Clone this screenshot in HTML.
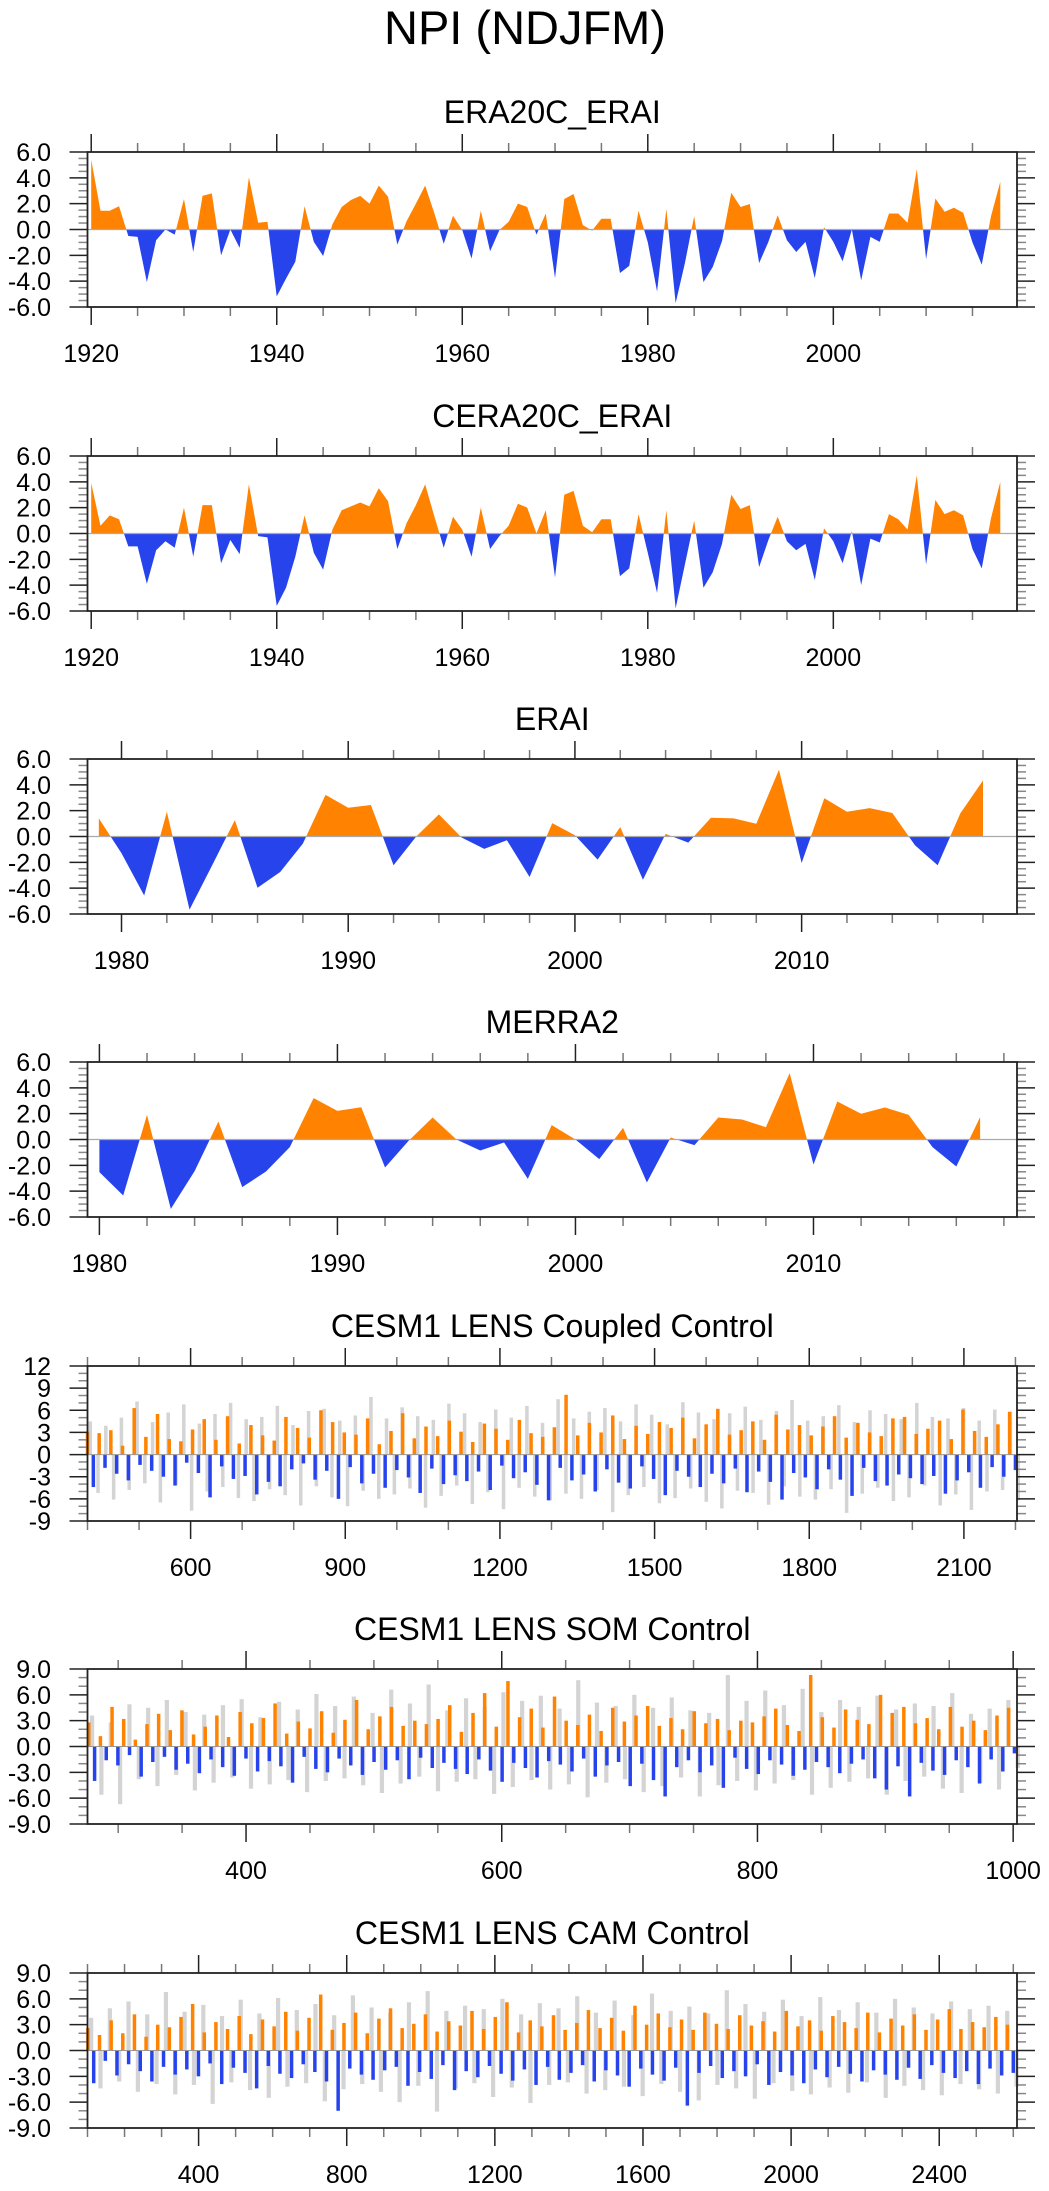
<!DOCTYPE html>
<html><head><meta charset="utf-8"><title>NPI (NDJFM)</title>
<style>
html,body{margin:0;padding:0;background:#fff;}
svg{display:block;font-family:"Liberation Sans",Arial,sans-serif;}
</style></head>
<body>
<svg id="fig" width="1049" height="2191" viewBox="0 0 1049 2191" xmlns="http://www.w3.org/2000/svg">
<text x="525" y="44" font-size="47" text-anchor="middle">NPI (NDJFM)</text>
</svg>
<script>
// ---------- data ----------
const era20cYears = [1920,2018];
const era20cValues = [5.4,1.45,1.45,1.8,-0.5,-0.57,-4.07,-0.83,0.0,-0.4,2.36,-1.74,2.6,2.8,-2.0,0.0,-1.42,4.04,0.52,0.6,
-5.18,-3.8,-2.5,1.8,-0.96,-2.05,0.4,1.74,2.28,2.6,2.0,3.4,2.54,-1.17,0.65,2.0,3.4,1.24,-1.1,1.06,
-0.05,-2.25,1.45,-1.68,-0.05,0.6,2.0,1.74,-0.4,1.24,-3.76,2.36,2.75,0.34,-0.08,0.83,0.83,-3.37,-2.82,1.45,
-1.0,-4.8,1.6,-5.7,-2.6,1.04,-4.07,-2.9,-0.9,2.85,1.74,1.97,-2.6,-0.96,1.1,-0.83,-1.74,-0.96,-3.76,0.18,
-0.96,-2.46,0.0,-3.94,-0.57,-0.96,1.24,1.24,0.52,4.66,-2.3,2.4,1.37,1.68,1.3,-1.0,-2.72,1.04,3.7];
const cera20cValues = [3.9,0.6,1.4,1.1,-1.0,-1.0,-3.9,-1.3,-0.6,-1.1,2.0,-1.8,2.2,2.2,-2.3,-0.5,-1.6,3.8,-0.2,-0.3,
-5.6,-4.2,-1.8,1.4,-1.5,-2.8,0.3,1.8,2.1,2.4,2.1,3.5,2.5,-1.2,0.8,2.2,3.8,1.3,-1.1,1.3,
0.3,-1.8,2.0,-1.2,-0.2,0.6,2.3,2.0,0.0,1.8,-3.4,3.0,3.3,0.6,0.1,1.1,1.1,-3.3,-2.7,1.5,
-1.5,-4.6,1.8,-5.8,-2.4,1.0,-4.2,-3.0,-0.8,3.0,1.9,2.2,-2.6,-0.5,1.3,-0.6,-1.3,-0.8,-3.6,0.4,
-0.6,-2.3,0.2,-4.0,-0.4,-0.7,1.5,1.1,0.3,4.5,-2.4,2.6,1.5,1.8,1.4,-1.2,-2.7,1.2,4.0];
const eraiYears = [1979,2018];
const eraiValues = [1.4,-1.3,-4.57,1.92,-5.66,-2.23,1.27,-3.97,-2.75,-0.55,3.22,2.23,2.44,-2.23,0.0,1.71,-0.08,-0.96,-0.29,-3.14,
1.04,0.1,-1.79,0.73,-3.35,0.2,-0.47,1.45,1.4,0.99,5.17,-2.05,2.96,1.92,2.2,1.82,-0.68,-2.23,1.79,4.34];
const merra2Years = [1980,2017];
const merra2Values = [-2.53,-4.34,1.91,-5.37,-2.45,1.39,-3.69,-2.48,-0.59,3.2,2.22,2.5,-2.17,-0.08,1.7,0.0,-0.85,-0.23,-3.05,1.11,
0.0,-1.52,0.9,-3.33,0.15,-0.44,1.7,1.55,0.95,5.14,-1.94,2.94,1.99,2.48,1.91,-0.59,-2.09,1.73];

const coupledSpan = [400,2200];
const coupledValues = [3.1,-4.4,2.9,-1.8,3.3,-2.6,1.2,-3.5,6.3,-1.4,2.4,-2.2,5.5,-3.0,2.1,-4.2,1.8,-1.1,3.4,-2.5,
4.8,-5.8,2.0,-1.6,5.2,-3.3,1.5,-2.9,4.0,-5.4,2.6,-3.7,1.9,-4.3,5.1,-2.0,3.6,-1.2,2.3,-3.4,
6.0,-2.2,4.4,-6.0,3.0,-1.7,2.7,-3.9,4.9,-2.6,1.4,-4.5,3.2,-2.1,5.6,-3.1,2.2,-5.2,3.8,-1.9,
2.5,-4.0,4.6,-2.8,3.1,-3.6,1.7,-2.3,4.2,-4.8,3.5,-1.5,2.0,-3.2,4.7,-2.4,2.9,-4.1,2.4,-6.2,
3.7,-1.8,8.1,-3.5,2.6,-2.7,4.3,-5.0,3.0,-2.0,5.3,-3.8,2.1,-4.6,3.9,-1.6,2.8,-3.3,4.4,-5.5,
3.6,-2.2,5.0,-3.0,2.2,-4.4,4.1,-2.6,6.2,-3.9,2.7,-1.9,3.3,-5.1,4.5,-2.3,2.0,-3.7,5.4,-6.1,
3.4,-2.5,4.0,-3.1,2.6,-4.7,3.8,-2.0,5.2,-3.4,2.3,-5.6,4.3,-1.8,3.0,-3.6,2.5,-4.2,4.9,-2.7,
5.1,-3.2,2.8,-4.0,3.5,-2.9,4.6,-5.3,2.1,-3.5,6.1,-2.4,3.2,-4.5,2.4,-1.7,4.1,-3.0,5.8,-2.1];
const coupledRaw = [4.5,-5.2,3.9,-6.1,5.0,-4.8,7.2,-3.9,4.4,-6.5,5.7,-4.1,6.8,-7.6,4.2,-5.0,5.5,-4.4,7.0,-5.9,
4.8,-6.3,5.1,-4.7,6.6,-5.5,4.0,-6.9,5.9,-4.3,6.2,-5.8,4.6,-7.0,5.3,-4.9,7.8,-6.0,4.9,-5.4,
6.4,-4.6,5.2,-7.2,4.7,-5.6,6.9,-4.2,5.6,-6.7,4.4,-5.1,6.1,-7.4,5.0,-4.5,6.6,-5.7,4.3,-6.2,
7.5,-5.3,4.9,-6.0,5.8,-4.8,6.3,-7.8,4.5,-5.5,6.8,-4.4,5.4,-6.6,4.1,-5.9,7.1,-4.6,5.7,-6.4,
4.8,-7.3,5.6,-4.9,6.5,-5.2,4.7,-6.8,5.9,-4.3,7.4,-5.7,4.6,-6.1,5.2,-4.7,6.7,-7.9,4.4,-5.3,
6.0,-4.5,5.5,-6.3,4.8,-5.8,7.0,-4.2,5.1,-6.9,4.9,-5.4,6.3,-7.5,4.6,-5.0,6.1,-4.8,5.8,-6.2];

const somSpan = [277,1001];
const somValues = [2.8,-4.0,1.2,-1.6,4.6,-2.2,3.2,-1.0,0.8,-3.5,2.6,-1.8,3.8,-1.2,1.9,-2.7,4.2,-2.0,1.4,-3.1,
2.3,-1.5,3.6,-2.4,1.1,-3.4,4.0,-1.4,2.7,-2.9,3.3,-1.7,5.0,-2.3,1.5,-4.2,2.9,-1.2,2.1,-2.6,
4.1,-3.0,1.6,-1.4,3.1,-2.2,5.4,-3.3,2.0,-1.8,3.5,-2.7,4.6,-1.6,2.4,-3.8,3.0,-1.3,2.6,-2.5,
3.2,-1.9,4.8,-2.6,1.7,-3.2,3.9,-1.5,6.2,-2.8,2.3,-4.1,7.6,-1.9,3.4,-2.5,4.4,-3.6,2.2,-1.7,
5.8,-2.1,3.0,-2.9,2.5,-1.4,3.7,-3.5,1.8,-2.2,4.5,-1.8,2.9,-4.6,3.6,-2.0,4.7,-3.9,2.4,-5.8,
3.3,-2.4,2.0,-1.6,4.1,-3.0,2.7,-2.2,3.2,-4.8,1.9,-1.3,3.0,-2.6,2.8,-3.2,3.5,-1.6,4.4,-2.1,
2.5,-3.4,1.8,-2.7,8.3,-1.8,3.4,-2.4,2.2,-3.1,4.3,-2.0,3.1,-1.5,2.6,-3.7,6.0,-5.0,3.9,-2.3,
4.6,-5.8,2.7,-1.9,3.3,-2.8,2.0,-3.3,4.6,-1.6,2.3,-2.4,3.0,-4.3,1.9,-1.5,3.6,-2.9,4.5,-0.8];
const somRaw = [3.6,-5.6,2.8,-6.7,4.9,-3.8,4.5,-4.6,5.4,-3.3,4.0,-5.1,3.7,-4.2,4.8,-3.6,5.5,-4.9,3.4,-4.4,
5.2,-3.9,4.3,-5.3,6.1,-4.0,4.7,-3.7,5.8,-4.5,3.9,-5.4,6.6,-4.3,5.0,-3.5,7.2,-5.2,4.2,-4.1,
5.6,-3.8,4.6,-5.5,6.3,-4.7,5.3,-3.9,5.9,-5.0,4.4,-4.4,7.7,-5.9,5.1,-4.2,4.7,-3.8,6.0,-5.3,
4.5,-4.6,5.7,-3.6,4.2,-5.8,3.9,-4.5,8.3,-4.0,5.3,-5.1,6.5,-4.3,4.8,-3.9,6.7,-5.6,4.0,-4.8,
5.4,-4.1,4.6,-3.7,5.9,-5.6,4.3,-4.0,5.0,-3.5,4.7,-4.9,6.2,-5.4,3.8,-4.2,4.4,-5.0,5.4,-2.5];

const camSpan = [101,2600];
const camValues = [2.6,-3.8,1.8,-1.2,3.5,-2.9,2.0,-1.6,4.2,-2.4,1.6,-3.6,3.0,-1.9,2.7,-2.8,3.9,-2.2,5.4,-3.0,
2.1,-1.5,3.3,-3.9,2.5,-2.0,4.0,-2.6,1.9,-4.4,3.6,-1.8,2.8,-2.7,4.5,-3.2,2.3,-1.6,3.8,-2.5,
6.5,-3.6,2.4,-7.0,3.2,-2.1,4.4,-2.8,2.0,-3.4,3.7,-2.3,4.9,-1.9,2.6,-4.1,3.1,-2.5,4.2,-3.3,
2.2,-1.7,3.4,-4.6,2.9,-2.4,4.6,-3.1,2.5,-1.8,3.9,-2.7,5.6,-3.5,2.1,-2.2,3.5,-4.0,2.8,-1.9,
4.1,-3.4,2.4,-2.6,3.2,-1.7,4.7,-3.6,2.6,-2.3,3.8,-2.9,2.3,-4.2,5.2,-2.1,3.0,-2.8,4.3,-3.5,
2.7,-2.0,3.6,-6.4,2.4,-2.6,4.4,-1.8,3.1,-3.2,2.5,-2.4,4.1,-3.0,2.9,-1.6,3.4,-4.0,2.2,-2.5,
4.6,-2.9,2.8,-3.8,3.5,-2.2,2.3,-3.1,4.0,-1.9,3.3,-2.7,2.6,-3.6,4.4,-2.3,2.1,-2.8,3.7,-3.4,
2.9,-2.0,4.2,-3.3,2.4,-1.7,3.6,-2.6,4.8,-3.2,2.5,-2.4,3.3,-3.9,2.7,-2.1,3.9,-2.9,3.0,-2.6];
const camRaw = [3.8,-4.4,4.9,-3.6,5.7,-4.8,4.2,-3.9,6.8,-5.1,4.5,-4.0,5.3,-6.2,4.0,-3.7,5.9,-4.6,4.3,-5.5,
6.1,-4.2,4.7,-3.8,5.4,-5.9,4.1,-4.5,6.4,-3.9,5.0,-4.8,4.4,-6.0,5.6,-4.1,6.9,-7.1,4.6,-4.4,
5.2,-3.8,4.8,-5.4,6.0,-4.3,4.2,-6.1,5.5,-4.0,4.9,-3.7,6.3,-5.0,4.4,-4.6,5.8,-4.2,4.1,-5.3,
6.6,-3.9,4.6,-4.8,5.1,-5.8,4.3,-4.0,7.0,-4.4,5.4,-5.6,4.5,-3.8,5.9,-4.7,4.0,-5.1,6.2,-4.3,
4.7,-4.9,5.6,-3.7,4.4,-5.5,6.0,-4.1,5.0,-4.6,4.3,-5.2,5.7,-3.9,4.8,-4.5,5.2,-5.0,4.6,-4.2];

// ---------- drawing ----------
const NS = "http://www.w3.org/2000/svg";
const svg = document.getElementById('fig');
const L = 87.5, R = 1017, H = 155;
const ORANGE = "#ff8200", BLUE = "#2744ec", GRAY = "#d4d4d4";

function mk(tag, attrs, parent){ const e=document.createElementNS(NS,tag); for(const k in attrs) e.setAttribute(k,attrs[k]); (parent||svg).appendChild(e); return e; }

function axes(cfg){
  const g = mk('g',{});
  
  
  const top = cfg.top, bot = top + H;
  const xs = v => L + (v - cfg.xmin) / (cfg.xmax - cfg.xmin) * (R - L);
  const ys = v => top + (cfg.ymax - v) / (cfg.ymax - cfg.ymin) * H;
  const t = mk('text',{x:(L+R)/2, y:top-29, 'font-size':32, 'text-anchor':'middle'}, g);
  t.textContent = cfg.title;
  
  
  return {g, xs, ys, top, bot};
}

function frame(cfg, A){
  const {g, xs, ys, top, bot} = A;
  const tg = mk('g',{stroke:'#555','stroke-width':1.5}, g);
  
  
  for(let v = Math.ceil(cfg.xmin/cfg.xminor)*cfg.xminor; v <= cfg.xmax; v += cfg.xminor){
    const x = xs(v); const major = (v - cfg.xmajor0) % cfg.xmajor === 0 && v >= cfg.xmajor0;
    const len = major ? 18 : 9;
    mk('line',{x1:x,x2:x,y1:top,y2:top-len, stroke: major?'#222':'#777'}, tg);
    mk('line',{x1:x,x2:x,y1:bot,y2:bot+len, stroke: major?'#222':'#777'}, tg);
    if(major){
      const lb = mk('text',{x:x, y:bot+55, 'font-size':25, 'text-anchor':'middle', stroke:'none', fill:'#000'}, g);
      lb.textContent = String(v);
      
      
    }
  }
  const n = Math.round((cfg.ymax - cfg.ymin)/cfg.yminor);
  for(let i=0;i<=n;i++){
    const v = cfg.ymin + i*cfg.yminor; const y = ys(v);
    const major = Math.abs(Math.round(v/cfg.ymajor)*cfg.ymajor - v) < 1e-6;
    const len = major ? 18 : 9;
    mk('line',{x1:L,x2:L-len,y1:y,y2:y, stroke: major?'#222':'#888'}, tg);
    mk('line',{x1:R,x2:R+len,y1:y,y2:y, stroke: major?'#222':'#888'}, tg);
    if(major){
      const lb = mk('text',{x:51, y:y+9, 'font-size':25, 'text-anchor':'end', stroke:'none', fill:'#000'}, g);
      lb.textContent = cfg.yfmt(v);
      
      
    }
  }
  const fr = mk('rect',{x:L,y:top,width:R-L,height:H,fill:'none',stroke:'#222','stroke-width':1.8}, g);
  
  
}

function areaPanel(cfg, years, vals){
  const A = axes(cfg);
  const {g, xs, ys, top, bot} = A;
  const z = ys(0);
  let d = 'M' + xs(years[0]) + ',' + z;
  vals.forEach((v,i)=>{ d += ' L' + xs(years[0]+i).toFixed(2) + ',' + ys(v).toFixed(2); });
  d += ' L' + xs(years[0]+vals.length-1) + ',' + z + ' Z';
  const idU = cfg.id+'-up', idD = cfg.id+'-dn';
  const defs = mk('defs',{}, g);
  const c1 = mk('clipPath',{id:idU}, defs); mk('rect',{x:L,y:top,width:R-L,height:z-top},c1);
  const c2 = mk('clipPath',{id:idD}, defs); mk('rect',{x:L,y:z,width:R-L,height:bot-z},c2);
  const pu = mk('path',{d:d, fill:ORANGE, 'clip-path':'url(#'+idU+')', stroke:'none'}, g);
  
  
  const pd = mk('path',{d:d, fill:BLUE, 'clip-path':'url(#'+idD+')', stroke:'none'}, g);
  
  
  const zl = mk('line',{x1:L,x2:R,y1:z,y2:z,stroke:'#aaa','stroke-width':1.3}, g);
  
  
  frame(cfg, A);
}

function barPanel(cfg, span, vals, raw){
  const A = axes(cfg);
  const {g, xs, ys} = A;
  const z = ys(0);
  const stepR = (span[1]-span[0])/(raw.length-1);
  const wR = Math.max(1.5, (xs(span[0]+stepR)-xs(span[0]))*0.45);
  raw.forEach((v,i)=>{
    const x = xs(span[0] + i*stepR + stepR*0.35);
    const b = mk('rect',{x:x-wR/2,y:Math.min(z,ys(v)),width:wR,height:Math.abs(ys(v)-z),fill:GRAY}, g);
    
    
  });
  const step = (span[1]-span[0])/(vals.length-1);
  const w = (xs(span[0]+step)-xs(span[0]))*0.6;
  vals.forEach((v,i)=>{
    const x = xs(span[0] + i*step);
    const b = mk('rect',{x:x-w/2,y:Math.min(z,ys(v)),width:w,height:Math.abs(ys(v)-z),fill: v>=0?ORANGE:BLUE}, g);
    
    
  });
  const zl = mk('line',{x1:L,x2:R,y1:z,y2:z,stroke:'#999','stroke-width':1}, g);
  
  
  frame(cfg, A);
}

const f1 = v => v.toFixed(1), f0 = v => String(v);
areaPanel({id:'era20c',title:'ERA20C_ERAI',top:152,xmin:1919.6,xmax:2019.8,ymin:-6,ymax:6,xminor:5,xmajor:20,xmajor0:1920,yminor:0.5,ymajor:2,yfmt:f1}, [1920], era20cValues);
areaPanel({id:'cera20c',title:'CERA20C_ERAI',top:456,xmin:1919.6,xmax:2019.8,ymin:-6,ymax:6,xminor:5,xmajor:20,xmajor0:1920,yminor:0.5,ymajor:2,yfmt:f1}, [1920], cera20cValues);
areaPanel({id:'erai',title:'ERAI',top:759,xmin:1978.5,xmax:2019.5,ymin:-6,ymax:6,xminor:2,xmajor:10,xmajor0:1980,yminor:0.5,ymajor:2,yfmt:f1}, [eraiYears[0]], eraiValues);
areaPanel({id:'merra2',title:'MERRA2',top:1062,xmin:1979.5,xmax:2018.55,ymin:-6,ymax:6,xminor:2,xmajor:10,xmajor0:1980,yminor:0.5,ymajor:2,yfmt:f1}, [merra2Years[0]], merra2Values);
barPanel({id:'coupled',title:'CESM1 LENS Coupled Control',top:1366,xmin:400,xmax:2203,ymin:-9,ymax:12,xminor:100,xmajor:300,xmajor0:600,yminor:1,ymajor:3,yfmt:f0}, coupledSpan, coupledValues, coupledRaw);
barPanel({id:'som',title:'CESM1 LENS SOM Control',top:1669,xmin:276,xmax:1003,ymin:-9,ymax:9,xminor:50,xmajor:200,xmajor0:400,yminor:1,ymajor:3,yfmt:f1}, somSpan, somValues, somRaw);
barPanel({id:'cam',title:'CESM1 LENS CAM Control',top:1973,xmin:100,xmax:2610,ymin:-9,ymax:9,xminor:100,xmajor:400,xmajor0:400,yminor:1,ymajor:3,yfmt:f1}, camSpan, camValues, camRaw);
</script>
</body></html>
